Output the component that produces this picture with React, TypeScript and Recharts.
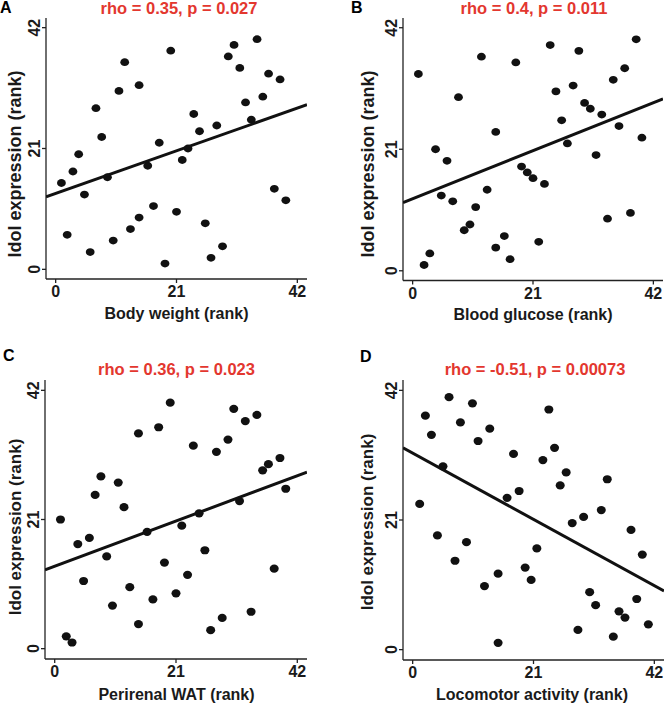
import React from 'react'
import { ScatterChart, Scatter, XAxis, YAxis } from 'recharts'

const FONT = "'Liberation Sans', Arial, Helvetica, sans-serif"
const RED = '#e3372f'
const INK = '#1a1a1a'

const axisTicks = [0, 21, 42]
const axisDomain: [number, number] = [-1.68, 43.68]

// A: body weight rank vs Idol expression rank
const bodyWeight = [1, 2, 3, 4, 5, 6, 7, 8, 9, 10, 11, 12, 13, 14.5, 14.5, 16, 17, 18, 19, 20, 21, 22, 23, 24, 25, 26, 27, 28, 29, 30, 31, 32, 33, 34, 35, 36, 37, 38, 39, 40]
const idolA = [15, 6, 17, 20, 13, 3, 28, 23, 16, 5, 31, 36, 7, 9, 32, 18, 11, 22, 1, 38, 10, 19, 21, 27, 24, 8, 2, 25, 4, 37, 39, 35, 29, 26, 40, 30, 34, 14, 33, 12]
const fitA = [{ x: -1.68, y: 12.6 }, { x: 43.68, y: 28.6 }]

// B: blood glucose
const bloodGlucose = [1, 2, 3, 4, 5, 6, 7, 8, 9, 10, 11, 12, 13, 14.5, 14.5, 16, 17, 18, 19, 20, 21, 22, 23, 24, 25, 26, 27, 28, 29, 30, 31, 32, 33, 34, 35, 36, 37, 38, 39, 40]
const idolB = [34, 1, 3, 21, 13, 19, 12, 30, 7, 8, 11, 37, 14, 24, 4, 6, 2, 36, 18, 17, 16, 5, 15, 39, 31, 26, 22, 32, 38, 29, 28, 20, 27, 9, 33, 25, 35, 10, 40, 23]
const fitB = [{ x: -1.68, y: 11.8 }, { x: 43.68, y: 29.7 }]

// C: perirenal WAT
const perirenalWat = [1, 2, 3, 4, 5, 6, 7, 8, 9, 10, 11, 12, 13, 14.5, 14.5, 16, 17, 18, 19, 20, 21, 22, 23, 24, 25, 26, 27, 28, 29, 30, 31, 32, 33, 34, 35, 36, 37, 38, 39, 40]
const idolC = [21, 2, 1, 17, 11, 18, 25, 28, 15, 7, 27, 23, 10, 35, 4, 19, 8, 36, 14, 40, 9, 20, 12, 33, 22, 16, 3, 32, 5, 34, 39, 24, 37, 6, 38, 29, 30, 13, 31, 26]
const fitC = [{ x: -1.68, y: 12.8 }, { x: 43.68, y: 28.7 }]

// D: locomotor activity
const locomotor = [1.22, 2.21, 3.26, 4.3, 5.27, 6.32, 7.36, 8.3, 9.35, 10.39, 11.37, 12.48, 13.4, 14.85, 14.85, 16.41, 17.53, 18.5, 19.55, 20.59, 21.58, 22.63, 23.67, 24.66, 25.64, 26.68, 27.73, 28.72, 29.71, 30.76, 31.8, 32.78, 33.82, 34.87, 35.86, 36.9, 37.95, 38.94, 39.91, 40.96]
const idolD = [23.6, 37.9, 34.8, 18.5, 29.7, 40.9, 14.4, 36.8, 17.4, 39.9, 33.8, 10.3, 35.8, 12.3, 1.1, 24.6, 31.7, 25.7, 13.3, 11.3, 16.4, 30.7, 38.9, 32.7, 26.6, 28.7, 20.5, 3.2, 21.5, 9.3, 7.2, 22.6, 27.6, 2.1, 6.2, 5.2, 19.4, 8.2, 15.4, 4.1]
const fitD = [{ x: -1.68, y: 32.7 }, { x: 43.68, y: 9.5 }]

const zip = (xs: number[], ys: number[]) => xs.map((x, i) => ({ x, y: ys[i] }))

const XTick = ({ x, y, payload }: any) => (
  <text x={x} y={y + 12} textAnchor="middle" fontSize={16} fontWeight="bold" fill={INK} fontFamily={FONT}>
    {payload.value}
  </text>
)

const YTick = ({ x, y, payload }: any) => (
  <text
    x={x}
    y={y}
    transform={`rotate(-90 ${x} ${y})`}
    textAnchor="middle"
    fontSize={16}
    fontWeight="bold"
    fill={INK}
    fontFamily={FONT}
  >
    {payload.value}
  </text>
)

function Panel({ left, top, w, h, rx, ry, data, fit }: any) {
  const Dot = (p: any) => <ellipse cx={p.cx} cy={p.cy} rx={rx} ry={ry} fill="#111" />
  const axis = { stroke: '#222', strokeWidth: 1.3 }
  return (
    <div style={{ position: 'absolute', left: left - 40, top: top - 10 }}>
      <ScatterChart width={w + 50} height={h + 40} margin={{ top: 10, right: 10, left: 0, bottom: 0 }}>
        <XAxis
          type="number"
          dataKey="x"
          domain={axisDomain}
          ticks={axisTicks}
          allowDataOverflow
          interval={0}
          height={30}
          tickSize={4}
          tickMargin={2}
          axisLine={axis}
          tickLine={axis}
          tick={XTick}
        />
        <YAxis
          type="number"
          dataKey="y"
          domain={axisDomain}
          ticks={axisTicks}
          allowDataOverflow
          interval={0}
          width={40}
          tickSize={4}
          tickMargin={2}
          axisLine={axis}
          tickLine={axis}
          tick={YTick}
        />
        <Scatter data={data} shape={Dot} isAnimationActive={false} />
        <Scatter
          data={fit}
          line={{ stroke: '#111', strokeWidth: 3 }}
          shape={() => <g />}
          isAnimationActive={false}
        />
      </ScatterChart>
    </div>
  )
}

const txt = { fontFamily: FONT, fontWeight: 'bold' as const }

export default function App() {
  return (
    <div
      style={{
        position: 'absolute',
        left: 0,
        top: 0,
        width: 666,
        height: 705,
        overflow: 'hidden',
        background: '#fff',
      }}
    >
      <Panel left={46} top={18} w={261} h={261} rx={4.4} ry={3.9} data={zip(bodyWeight, idolA)} fit={fitA} />
      <Panel left={403} top={18} w={260} h={262.5} rx={4.4} ry={3.9} data={zip(bloodGlucose, idolB)} fit={fitB} />
      <Panel left={45} top={380} w={262} h={279} rx={4.5} ry={4.1} data={zip(perirenalWat, idolC)} fit={fitC} />
      <Panel left={403} top={380} w={261} h={280} rx={4.5} ry={4.1} data={zip(locomotor, idolD)} fit={fitD} />

      <svg width={666} height={705} style={{ position: 'absolute', left: 0, top: 0, pointerEvents: 'none' }}>
        <g {...txt} fontSize={16} fill="#000">
          <text x={0} y={13}>A</text>
          <text x={351} y={13}>B</text>
          <text x={3} y={361}>C</text>
          <text x={360} y={362}>D</text>
        </g>
        <g {...txt} fontSize={16.5} fill={RED} textAnchor="middle">
          <text x={179} y={14}>rho = 0.35, p = 0.027</text>
          <text x={534} y={14}>rho = 0.4, p = 0.011</text>
          <text x={176.5} y={375}>rho = 0.36, p = 0.023</text>
          <text x={535} y={375}>rho = -0.51, p = 0.00073</text>
        </g>
        <g {...txt} fontSize={16} fill={INK} textAnchor="middle">
          <text x={176.5} y={319}>Body weight (rank)</text>
          <text x={533} y={320}>Blood glucose (rank)</text>
          <text x={176.5} y={699.5}>Perirenal WAT (rank)</text>
          <text x={532} y={699.5}>Locomotor activity (rank)</text>
        </g>
        <g {...txt} fill={INK} textAnchor="middle">
          <text x={21} y={164} fontSize={18} transform="rotate(-90 21 164)">Idol expression (rank)</text>
          <text x={374} y={164} fontSize={18} transform="rotate(-90 374 164)">Idol expression (rank)</text>
          <text x={21} y={527} fontSize={17} transform="rotate(-90 21 527)">Idol expression (rank)</text>
          <text x={372.5} y={522} fontSize={17} transform="rotate(-90 372.5 522)">Idol expression (rank)</text>
        </g>
      </svg>
    </div>
  )
}
